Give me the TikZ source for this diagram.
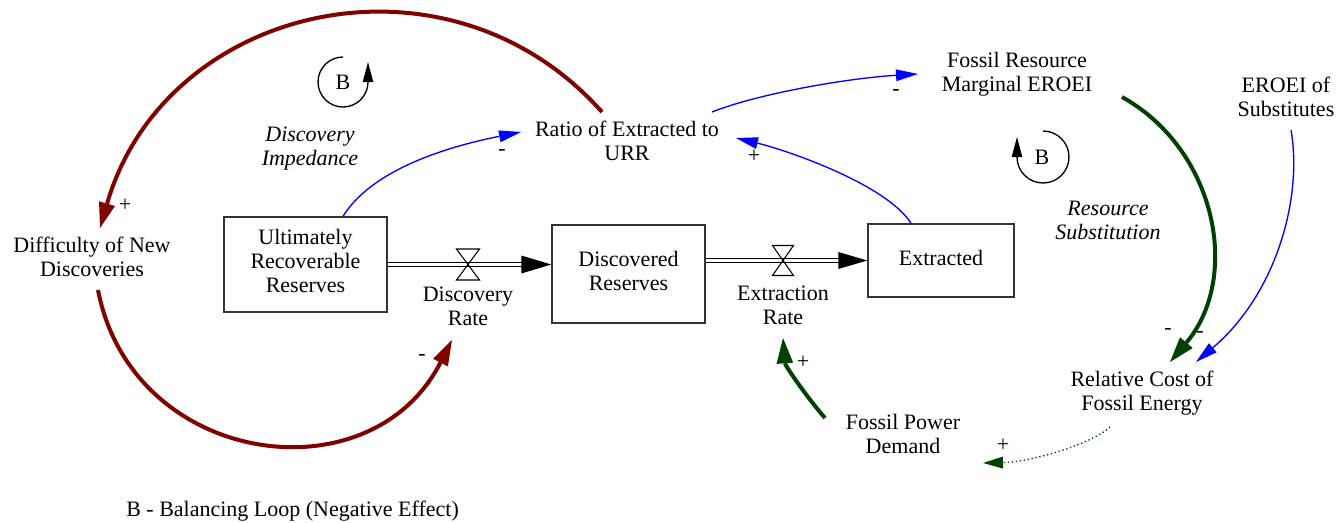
\documentclass[tikz,border=0pt]{standalone}
\usepackage{fontspec}
\setmainfont{Liberation Serif}
\usetikzlibrary{arrows.meta,calc}
\definecolor{dred}{RGB}{128,0,0}
\definecolor{dgreen}{RGB}{0,64,0}
\definecolor{lblue}{RGB}{0,0,255}
\newcommand{\fs}{\fontsize{16.5}{18}\selectfont}
\begin{document}
\begin{tikzpicture}[x=0.75pt,y=-0.75pt,
  lbl/.style={align=center,inner sep=0pt,font=\fs,execute at begin node=\strut,execute at end node=\strut},
  stock/.style={draw=black!80,line width=1.1pt,align=center,inner sep=0pt,font=\fs,execute at begin node=\strut,execute at end node=\strut},
  sign/.style={inner sep=0pt,font=\fs},
  pipe/.style={draw=black,line width=0.9pt,double=white,double distance=2pt},
  thinlink/.style={draw=lblue,line width=1pt,-{Triangle[length=16.5pt,width=9pt,line width=0pt]}},
  redlink/.style={draw=dred,line width=3pt,-{Triangle[length=19pt,width=12.5pt,line width=0pt]}},
  greenlink/.style={draw=dgreen,line width=3pt,-{Triangle[length=19pt,width=12.5pt,line width=0pt]}},
  dotlink/.style={draw=dgreen,line width=1pt,dash pattern=on 1pt off 2pt,-{Triangle[length=15pt,width=9pt,line width=0pt]}},
  loopline/.style={draw=black,line width=1pt,-{Triangle[length=15pt,width=8pt,line width=0pt]}},
]
\useasboundingbox (0,0) rectangle (1344,522);

% text nodes
\node[lbl] (ratio) at (627,144) {Ratio of Extracted to\\URR};
\node[lbl] (fres) at (1017,75) {Fossil Resource\\Marginal EROEI};
\node[lbl] (esub) at (1286,100) {EROEI of\\Substitutes};
\node[lbl] (diff) at (92,260) {Difficulty of New\\Discoveries};
\node[lbl] (rcost) at (1142,394) {Relative Cost of\\Fossil Energy};
\node[lbl] (fpd) at (903,437) {Fossil Power\\Demand};
\node[lbl] (drate) at (468,310) {Discovery\\Rate};
\node[lbl] (erate) at (783,309) {Extraction\\Rate};
\node[lbl,font=\fs\itshape] (imped) at (310,150) {Discovery\\Impedance};
\node[lbl,font=\fs\itshape] (subst) at (1108,224) {Resource\\Substitution};
\node[lbl,anchor=west] (legend) at (126,512) {B - Balancing Loop (Negative Effect)};

% stocks
\node[stock,minimum width=122.25pt,minimum height=71.25pt] (urr) at (305.5,264.5) {Ultimately\\Recoverable\\Reserves};
\node[stock,minimum width=114.75pt,minimum height=73.5pt] (disc) at (628.5,274) {Discovered\\Reserves};
\node[stock,minimum width=109.5pt,minimum height=54.75pt] (extr) at (941,260.5) {Extracted};

% flows
\draw[pipe,shorten >=21pt] (urr.east) -- (urr.east -| disc.west);
\fill (urr.east -| disc.west) -- ++(-30,-9) -- ++(0,18) -- cycle;
\draw[pipe,shorten >=21pt] (disc.east |- extr.west) -- (extr.west);
\fill (extr.west) -- ++(-29,-8.5) -- ++(0,17) -- cycle;

% valves
\draw[line width=0.8pt] (468,264.5) ++(-11.5,-15.5) -- ++(23,0) -- ++(-23,31) -- ++(23,0) -- cycle;
\draw[line width=0.8pt] (783,260.5) ++(-10.5,-15) -- ++(21,0) -- ++(-21,30) -- ++(21,0) -- cycle;

% loop markers
\node[sign] (loop1) at (343,82) {B};
\draw[loopline] (loop1.center) ++(0,-25) arc[start angle=270,end angle=0,radius=25] -- ++(0,-20);
\node[sign] (loop2) at (1042,157) {B};
\draw[loopline] (loop2.center) ++(1,-26) arc[start angle=-90,end angle=180,radius=26] -- ++(0,-20);

% causal links
\draw[redlink] ($(ratio.center)+(-25,-32)$) .. controls (447,-62) and (165,4) .. ($(diff.center)+(8,-32)$);
\draw[redlink] ($(diff.center)+(6,30)$) .. controls (132,466) and (370,500) .. ($(drate.center)+(-16,30)$);
\draw[thinlink] ($(urr.north)+(37.5,0)$) .. controls (375,165) and (461,144) .. ($(ratio.center)+(-106,-12)$);
\draw[thinlink] ($(extr.north)+(-30,0)$) .. controls (886,184) and (786,150) .. ($(ratio.center)+(109,-6)$);
\draw[thinlink] ($(ratio.center)+(85,-32)$) .. controls (760,93) and (850,78) .. ($(fres.center)+(-99,-1)$);
\draw[greenlink] ($(fres.center)+(105,22)$) .. controls (1217,150) and (1241,278) .. ($(rcost.center)+(28,-32)$);
\draw[thinlink] ($(esub.center)+(5,30)$) .. controls (1303,200) and (1275,295) .. ($(rcost.center)+(54,-32)$);
\draw[dotlink] ($(rcost.center)+(-32,33)$) .. controls (1090,445) and (1030,462) .. ($(fpd.center)+(80,26)$);
\draw[greenlink] ($(fpd.center)+(-78,-19)$) .. controls (805,395) and (785,365) .. ($(erate.center)+(0,29)$);

% polarity signs
\node[sign] (s1) at (125,205) {+};
\node[sign] (s2) at (422,357) {-};
\node[sign] (s3) at (502,152) {-};
\node[sign] (s4) at (754,156) {+};
\node[sign] (s5) at (896,92) {-};
\node[sign] (s6) at (1168,331) {-};
\node[sign] (s7) at (1200,334) {-};
\node[sign] (s8) at (1003,445) {+};
\node[sign] (s9) at (803,362) {+};
\end{tikzpicture}
\end{document}
